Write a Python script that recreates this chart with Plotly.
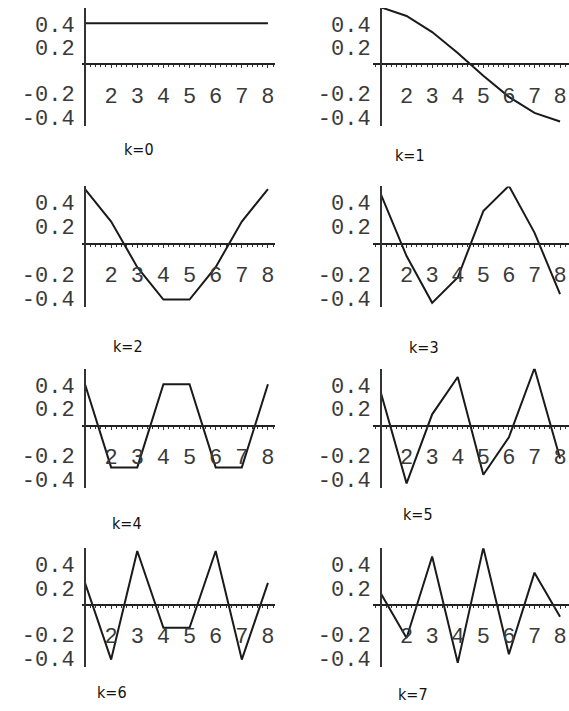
import plotly.graph_objs as go

# sample index n = 1..8 and the eight DCT basis vectors
samples = [1, 2, 3, 4, 5, 6, 7, 8]
basis_k0 = [0.354, 0.354, 0.354, 0.354, 0.354, 0.354, 0.354, 0.354]
basis_k1 = [0.490, 0.416, 0.278, 0.098, -0.098, -0.278, -0.416, -0.490]
basis_k2 = [0.462, 0.191, -0.191, -0.462, -0.462, -0.191, 0.191, 0.462]
basis_k3 = [0.416, -0.098, -0.490, -0.278, 0.278, 0.490, 0.098, -0.416]
basis_k4 = [0.354, -0.354, -0.354, 0.354, 0.354, -0.354, -0.354, 0.354]
basis_k5 = [0.278, -0.490, 0.098, 0.416, -0.416, -0.098, 0.490, -0.278]
basis_k6 = [0.191, -0.462, 0.462, -0.191, -0.191, 0.462, -0.462, 0.191]
basis_k7 = [0.098, -0.278, 0.416, -0.490, 0.490, -0.416, 0.278, -0.098]
panel_titles = ['k=0', 'k=1', 'k=2', 'k=3', 'k=4', 'k=5', 'k=6', 'k=7']

y_tickvals = [-0.4, -0.2, 0.2, 0.4]
y_ticktext = ['-0.4', '-0.2', '0.2', '0.4']
x_tickvals = [2, 3, 4, 5, 6, 7, 8]

basis = [basis_k0, basis_k1, basis_k2, basis_k3, basis_k4, basis_k5, basis_k6, basis_k7]

W, H = 569, 711
# pixel boxes for columns / rows
col_px = [(82, 275), (373, 569)]
col_range = [(0.885, 8.27), (0.687, 8.35)]
row_px = [(8, 127), (188, 310), (372, 492), (553, 673)]
y_range = (-0.528, 0.485)
title_pos = [(139, 151), (410, 157), (128, 349), (424, 350),
             (127, 528), (418, 519), (112, 698), (413, 700)]

mono = 'Liberation Mono, Courier New, monospace'
narrow = 'Liberation Sans Narrow, DejaVu Sans Condensed, Arial Narrow, sans-serif'

fig = go.Figure()
layout = {}
for i, vals in enumerate(basis):
    r, c = divmod(i, 2)
    ax = '' if i == 0 else str(i + 1)
    x0, x1 = col_px[c][0] / W, col_px[c][1] / W
    yb, yt = 1 - row_px[r][1] / H, 1 - row_px[r][0] / H
    xmin, xmax = col_range[c]
    ymin, ymax = y_range
    xpos = x0 + (1 - xmin) / (xmax - xmin) * (x1 - x0)
    ypos = yb + (0 - ymin) / (ymax - ymin) * (yt - yb)

    fig.add_trace(go.Scatter(x=samples, y=vals, mode='lines',
                             line=dict(color='#1a1a1a', width=2),
                             xaxis='x' + ax, yaxis='y' + ax,
                             showlegend=False, hoverinfo='skip'))

    layout['xaxis' + ax] = dict(
        domain=[x0, x1], range=[xmin, xmax], anchor='free', position=ypos,
        showline=True, linecolor='#222', linewidth=1.5, showgrid=False,
        zeroline=False, tickvals=x_tickvals, ticks='outside', ticklen=3,
        tickwidth=1, tickcolor='#333', ticklabelstandoff=8,
        minor=dict(dtick=0.2, tick0=1, ticks='outside', ticklen=2,
                   tickwidth=1, tickcolor='#333', showgrid=False),
        tickfont=dict(family=mono, size=22, color='#3a3a3a'))
    layout['yaxis' + ax] = dict(
        domain=[yb, yt], range=[ymin, ymax], anchor='free', position=xpos,
        showline=True, linecolor='#333', linewidth=2, showgrid=False,
        zeroline=False, tickvals=y_tickvals, ticktext=y_ticktext, ticks='',
        ticklabelstandoff=5, ticklabelshift=6,
        tickfont=dict(family=mono, size=22, color='#3a3a3a'))

    tx, ty = title_pos[i]
    fig.add_annotation(text=panel_titles[i], x=tx / W, y=1 - ty / H,
                       xref='paper', yref='paper', showarrow=False,
                       xanchor='center', yanchor='middle',
                       font=dict(family=narrow, size=16, color='#111'))

fig.update_layout(**layout)
fig.update_layout(width=W, height=H, margin=dict(l=0, r=0, t=0, b=0),
                  plot_bgcolor='white', paper_bgcolor='white')

fig.write_html("out.html", config={'displayModeBar': False},
               post_script="document.body.style.margin='0';document.body.style.overflow='hidden';")
